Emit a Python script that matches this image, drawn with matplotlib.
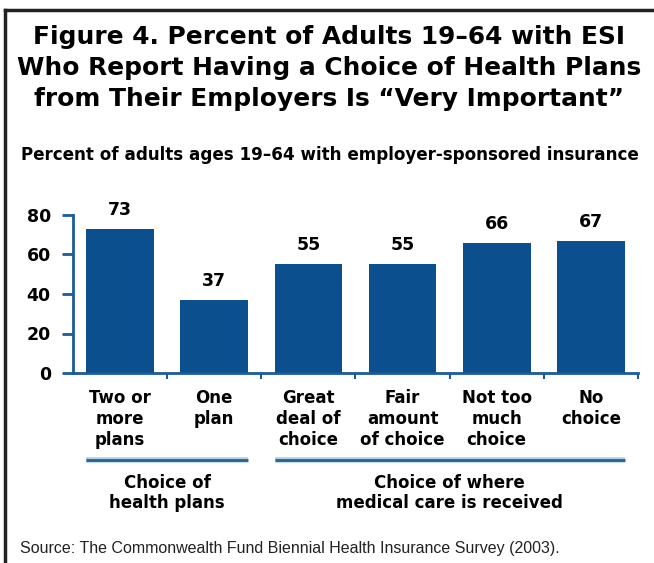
import numpy as np
import matplotlib.pyplot as plt
from matplotlib import transforms
from matplotlib.lines import Line2D

plt.rcParams['font.family'] = ['DejaVu Sans']

categories = ['Two or\nmore\nplans', 'One\nplan', 'Great\ndeal of\nchoice',
              'Fair\namount\nof choice', 'Not too\nmuch\nchoice', 'No\nchoice']
values = [73, 37, 55, 55, 66, 67]
groups = ['Choice of\nhealth plans', 'Choice of where\nmedical care is received']
group_members = [[0, 1], [2, 3, 4, 5]]
yticks = [0, 20, 40, 60, 80]

title = ('Figure 4. Percent of Adults 19\u201364 with ESI\n'
         'Who Report Having a Choice of Health Plans\n'
         'from Their Employers Is \u201cVery Important\u201d')
subtitle = 'Percent of adults ages 19\u201364 with employer-sponsored insurance'
source = 'Source: The Commonwealth Fund Biennial Health Insurance Survey (2003).'

W, H = 654, 563
bar_color = '#0b4f8e'
axis_color = '#1a5c9a'
bw = 0.72

fig = plt.figure(figsize=(W / 100, H / 100), dpi=100)
ax = fig.add_axes([73 / W, 1 - 373 / H, (638 - 73) / W, (373 - 215) / H])

x = np.arange(len(values))
ax.bar(x, values, width=bw, color=bar_color, zorder=2)
for xi, v in zip(x, values):
    ax.annotate(str(v), (xi, v), xytext=(0, 10), textcoords='offset points',
                ha='center', va='baseline', fontsize=12.5, fontweight='bold',
                annotation_clip=False)

ax.set_xlim(-0.5, len(values) - 0.5)
ax.set_ylim(0, 80)
ax.set_yticks(yticks)
ax.set_yticklabels([str(t) for t in yticks], fontsize=12.5, fontweight='bold')
ax.set_xticks([len(values) - 0.5] + list(x[:-1] + 0.5))
ax.set_xticklabels([])
ax.tick_params(axis='y', direction='out', length=8, width=2, color=axis_color, pad=8)
ax.tick_params(axis='x', direction='out', length=4, width=1.5, color=axis_color)
for s in ['top', 'right']:
    ax.spines[s].set_visible(False)
for s in ['left', 'bottom']:
    ax.spines[s].set_color(axis_color)
    ax.spines[s].set_linewidth(2)

tr = transforms.blended_transform_factory(ax.transData, fig.transFigure)
for xi, lab in zip(x, categories):
    ax.text(xi, 1 - 389 / H, lab, transform=tr, ha='center', va='top',
            fontsize=12, fontweight='bold', linespacing=1.2)

for g, members in zip(groups, group_members):
    x0 = members[0] - bw / 2
    x1 = members[-1] + bw / 2
    yl = 1 - 460 / H
    ax.plot([x0, x1], [yl, yl], transform=tr, color='#a9d0ee', lw=4,
            clip_on=False, solid_capstyle='butt')
    ax.plot([x0, x1], [yl, yl], transform=tr, color='#2f5f85', lw=2,
            clip_on=False, solid_capstyle='butt')
    ax.text((x0 + x1) / 2, 1 - 493 / H, g, transform=tr, ha='center',
            va='center', fontsize=12, fontweight='bold', linespacing=1.15)

fig.text(0.503, 1 - 68 / H, title, ha='center', va='center', fontsize=17.9,
         fontweight='bold', linespacing=1.36)
fig.text(0.505, 1 - 155 / H, subtitle, ha='center', va='center', fontsize=12.1,
         fontweight='bold')
fig.text(20 / W, 1 - 548 / H, source, ha='left', va='center', fontsize=11.5,
         color='#222222', family='Liberation Sans')

fig.add_artist(Line2D([5 / W, 1], [1 - 10 / H, 1 - 10 / H], color='#222222', lw=2.5))
fig.add_artist(Line2D([5 / W, 5 / W], [0, 1 - 10 / H], color='#222222', lw=2.5))

fig.savefig('out.png', dpi=100)
